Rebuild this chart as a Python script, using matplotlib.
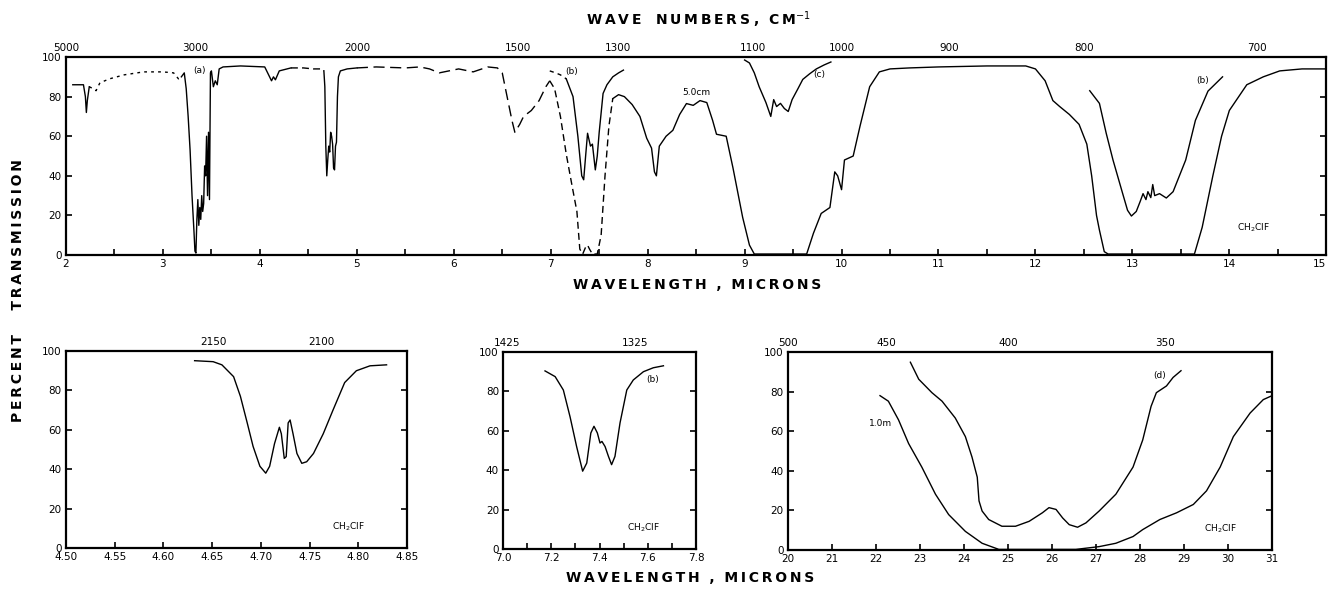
import numpy as np
import matplotlib
matplotlib.use("Agg")
import matplotlib.pyplot as plt

# ---------------- data: top panel (2-15 microns) ----------------
segA_x = [2.07, 2.18, 2.20, 2.21, 2.22, 2.24]
segA_y = [86, 86, 80, 72, 78, 85]
segB_x = [2.24, 2.28, 2.31, 2.35, 2.45, 2.6, 2.8, 3.0, 3.11, 3.16, 3.19]
segB_y = [85, 84, 83, 87, 89, 91, 92.5, 92.5, 92, 89, 90]
segC_x = [3.19, 3.22, 3.24, 3.26, 3.28, 3.30, 3.32, 3.33, 3.34, 3.35, 3.36, 3.37, 3.38,
          3.39, 3.40, 3.41, 3.42, 3.43, 3.44, 3.45, 3.46, 3.47, 3.48, 3.49, 3.50, 3.52,
          3.54, 3.56, 3.58, 3.62, 3.8, 4.05, 4.10, 4.12, 4.14, 4.16, 4.20, 4.32]
segC_y = [90, 92, 84, 70, 53, 30, 12, 2, 1, 18, 28, 15, 24, 18, 30, 22, 26, 45, 40, 60,
          30, 62, 28, 92, 93, 85, 88, 86, 94, 95, 95.5, 95, 90, 88, 90, 88.5, 93, 94.5]
segD_x = [4.32, 4.45, 4.55, 4.64, 4.66]
segD_y = [94.5, 94.5, 94, 94, 93]
segE_x = [4.66, 4.67, 4.68, 4.69, 4.70, 4.71, 4.72, 4.73, 4.74, 4.75, 4.76, 4.77, 4.78,
          4.79, 4.80, 4.81, 4.83, 4.9, 5.0]
segE_y = [93, 85, 55, 40, 48, 55, 52, 62, 60, 56, 44, 43, 55, 57, 80, 90, 93, 94, 94.5]
segF_x = [5.0, 5.2, 5.5, 5.65, 5.75, 5.85, 5.95, 6.05, 6.2, 6.35, 6.45, 6.5, 6.55, 6.6,
          6.63, 6.68, 6.72, 6.8, 6.88, 6.95, 6.99]
segF_y = [94.5, 95, 94.5, 95, 94, 92, 93, 94, 92.5, 95, 94.5, 92, 80, 68, 62, 66, 70,
          73, 78, 85, 88]
segG_x = [6.99, 7.04, 7.10, 7.16, 7.22, 7.27, 7.30, 7.33, 7.36, 7.38, 7.40, 7.43, 7.48,
          7.52, 7.56, 7.60, 7.64]
segG_y = [88, 84, 70, 51, 35, 22, 3, 0.5, 4, 5, 3, 0.5, 0.5, 10, 40, 65, 79]
segH_x = [7.64, 7.70, 7.76, 7.84, 7.92, 7.99, 8.04, 8.07, 8.09, 8.12, 8.19, 8.26, 8.33,
          8.40, 8.47, 8.54, 8.61, 8.67, 8.71, 8.81, 8.88, 8.98, 9.05, 9.10, 9.3, 9.5,
          9.64, 9.71, 9.79, 9.88, 9.93, 9.96, 10.0, 10.03, 10.12, 10.19, 10.29, 10.39,
          10.5, 10.7, 11.0, 11.5, 11.9, 12.0, 12.1, 12.18, 12.25, 12.35, 12.45, 12.53,
          12.58, 12.63, 12.66, 12.71, 12.75, 13.0, 13.3, 13.64, 13.72, 13.83, 13.92,
          14.0, 14.18, 14.35, 14.52, 14.75, 15.0]
segH_y = [79, 81, 80, 76, 70, 59, 54, 42, 40, 55, 60, 63, 71, 76.5, 75.6, 78, 77, 68,
          61, 60, 44, 19, 5, 0.5, 0.5, 0.5, 0.5, 11, 21, 24, 42, 40, 33, 48, 50, 65, 85,
          92.5, 94, 94.5, 95, 95.5, 95.5, 94, 88, 78, 75, 71, 66, 56, 40, 20, 12.6, 1.7,
          0.5, 0.5, 0.5, 0.5, 14, 40, 60, 73, 86, 90, 93, 94, 94]
b1dash_x = [6.99, 7.05, 7.10, 7.16]
b1dash_y = [93, 92, 91, 89]
b1_x = [7.16, 7.23, 7.28, 7.32, 7.34, 7.36, 7.38, 7.41, 7.43, 7.46, 7.48, 7.50, 7.54,
        7.58, 7.64, 7.70, 7.75]
b1_y = [89, 80, 60, 40, 38, 50, 61.5, 55, 56, 43, 50, 62, 81.6, 86, 90, 92, 93.4]
c_x = [9.0, 9.05, 9.10, 9.15, 9.22, 9.27, 9.30, 9.33, 9.37, 9.41, 9.45, 9.49, 9.55,
       9.6, 9.67, 9.74, 9.82, 9.89]
c_y = [98.5, 97, 92, 85, 77, 70, 78.5, 75, 76.6, 74, 72.5, 78.5, 84, 88.7, 91.5, 94,
       96, 97.5]
b2_x = [12.56, 12.66, 12.73, 12.80, 12.90, 12.95, 12.99, 13.04, 13.08, 13.11, 13.14,
        13.16, 13.19, 13.21, 13.23, 13.28, 13.35, 13.42, 13.55, 13.65, 13.78, 13.93]
b2_y = [83, 76.6, 61.5, 48, 31, 22.6, 19.7, 22, 27, 31, 28, 32, 29, 35.6, 30, 31,
        28.8, 32, 48, 68, 82.8, 90]

top_wn = [5000, 3000, 2000, 1500, 1300, 1100, 1000, 900, 800, 700]

# ---------------- bottom-left (4.50-4.85) ----------------
bl_x = [4.632, 4.651, 4.660, 4.672, 4.679, 4.686, 4.692, 4.699, 4.705, 4.709, 4.714,
        4.719, 4.721, 4.724, 4.726, 4.728, 4.730, 4.733, 4.737, 4.742, 4.747, 4.754,
        4.764, 4.774, 4.786, 4.798, 4.812, 4.829]
bl_y = [95.1, 94.6, 93, 87, 77, 63.5, 51.6, 41.5, 38, 41.5, 53, 61.3, 58, 45.5, 46.4,
        63.5, 65, 58, 48, 43, 43.8, 48, 58, 70, 84, 90, 92.5, 93]
bl_wn = [2150, 2100]

# ---------------- bottom-middle (7.0-7.8) ----------------
bm_x = [7.174, 7.216, 7.25, 7.278, 7.305, 7.33, 7.347, 7.364, 7.377, 7.391, 7.402,
        7.41, 7.423, 7.437, 7.45, 7.464, 7.485, 7.513, 7.54, 7.582, 7.623, 7.665]
bm_y = [90.4, 87.5, 80.7, 67, 52, 39.5, 43.6, 58.9, 62.3, 58.9, 53.8, 54.6, 52, 47,
        42.8, 47, 64, 80.7, 85.8, 90, 92, 93]
bm_wn = [1425, 1325]

# ---------------- bottom-right (20-31) ----------------
m1_x = [22.09, 22.28, 22.51, 22.74, 23.04, 23.35, 23.65, 24.03, 24.41, 24.79, 25.5,
        26.54, 27.07, 27.45, 27.84, 28.06, 28.45, 28.83, 29.21, 29.51, 29.82, 30.12,
        30.5, 30.8, 31.0]
m1_y = [78, 75.2, 65.8, 53.8, 41.9, 28.2, 17.9, 9.4, 3.4, 0.3, 0.3, 0.3, 1.7, 3.4,
        6.8, 10.3, 15.4, 18.8, 23, 29.9, 41.9, 57.3, 69.2, 76, 78]
d_x = [22.78, 22.97, 23.27, 23.5, 23.8, 24.03, 24.18, 24.3, 24.34, 24.41, 24.56, 24.86,
       25.17, 25.48, 25.78, 25.93, 26.09, 26.24, 26.39, 26.58, 26.77, 27.07, 27.45,
       27.84, 28.06, 28.25, 28.37, 28.6, 28.75, 28.93]
d_y = [94.9, 86.3, 79.5, 75.2, 66.7, 57.3, 47, 36.8, 24.8, 19.7, 15.4, 12, 12, 14.5,
       18.8, 21.4, 20.5, 16.2, 12.8, 11.5, 13.7, 19.7, 28.2, 41.9, 55.6, 72.6, 79.5,
       82.9, 87.2, 90.6]
br_wn = [500, 450, 400, 350]

# ---------------- figure ----------------
fig = plt.figure(figsize=(13.28, 5.96), dpi=100)
TFS = 7.5
LW = 1.0
SP = 1.6


def style(ax, xlim, xticks, xlabels, wn, wn_labels, minor=None):
    ax.set_xlim(*xlim)
    ax.set_ylim(0, 100)
    ax.set_xticks(xticks)
    ax.set_xticklabels(xlabels, fontsize=TFS)
    if minor is not None:
        ax.set_xticks(minor, minor=True)
    ax.set_yticks([0, 20, 40, 60, 80, 100])
    ax.set_yticklabels(["0", "20", "40", "60", "80", "100"], fontsize=TFS)
    ax.tick_params(axis="both", which="both", direction="in", length=4, width=1.2,
                   top=True, right=True, pad=3)
    ax.tick_params(axis="x", which="minor", length=4)
    for s in ax.spines.values():
        s.set_linewidth(SP)
    tw = ax.twiny()
    tw.set_xlim(*xlim)
    tw.set_xticks([1e4 / w for w in wn])
    tw.set_xticklabels(wn_labels, fontsize=TFS)
    tw.tick_params(axis="x", direction="in", length=0, pad=3)
    for s in tw.spines.values():
        s.set_visible(False)
    return ax


# top panel
ax = fig.add_axes([0.0497, 0.5721, 0.949, 0.3322])
ticks = list(range(2, 16))
style(ax, (2, 15), ticks, [str(t) for t in ticks], top_wn, [str(w) for w in top_wn],
      minor=np.arange(2.5, 15, 1.0))
ax.get_xticklabels()[-1].set_horizontalalignment("right")
ax.plot(segA_x, segA_y, color="black", lw=LW)
ax.plot(segB_x, segB_y, color="black", lw=LW, ls=(0, (2, 3)))
ax.plot(segC_x, segC_y, color="black", lw=LW)
ax.plot(segD_x, segD_y, color="black", lw=LW, ls=(0, (5, 3)))
ax.plot(segE_x, segE_y, color="black", lw=LW)
ax.plot(segF_x, segF_y, color="black", lw=LW, ls=(0, (8, 4)))
ax.plot(segG_x, segG_y, color="black", lw=LW, ls=(0, (5, 3)))
ax.plot(segH_x, segH_y, color="black", lw=LW)
ax.plot(b1dash_x, b1dash_y, color="black", lw=LW, ls=(0, (3, 3)))
ax.plot(b1_x, b1_y, color="black", lw=LW)
ax.plot(c_x, c_y, color="black", lw=LW)
ax.plot(b2_x, b2_y, color="black", lw=LW)
lbl = dict(fontsize=6.5, ha="center", va="center")
ax.text(3.38, 93.4, "(a)", **lbl)
ax.text(7.22, 92.6, "(b)", **lbl)
ax.text(8.5, 82, "5.0cm", **lbl)
ax.text(9.77, 91, "(c)", **lbl)
ax.text(13.72, 88, "(b)", **lbl)
ax.text(14.25, 13.6, "CH$_2$ClF", **lbl)

# bottom-left
ax = fig.add_axes([0.0497, 0.0805, 0.2568, 0.3305])
xt = [4.50, 4.55, 4.60, 4.65, 4.70, 4.75, 4.80, 4.85]
style(ax, (4.50, 4.85), xt, ["%.2f" % t for t in xt], bl_wn, [str(w) for w in bl_wn])
ax.plot(bl_x, bl_y, color="black", lw=LW)
ax.text(4.79, 10.6, "CH$_2$ClF", **lbl)

# bottom-middle
ax = fig.add_axes([0.3788, 0.0789, 0.1453, 0.3305])
xt = [7.0, 7.2, 7.4, 7.6, 7.8]
style(ax, (7.0, 7.8), xt, ["%.1f" % t for t in xt], bm_wn, [str(w) for w in bm_wn],
      minor=[7.1, 7.3, 7.5, 7.7])
ax.plot(bm_x, bm_y, color="black", lw=LW)
ax.text(7.58, 11, "CH$_2$ClF", **lbl)
ax.text(7.62, 86, "(b)", **lbl)

# bottom-right
ax = fig.add_axes([0.5934, 0.0772, 0.3645, 0.332])
xt = list(range(20, 32))
style(ax, (20, 31), xt, [str(t) for t in xt], br_wn, [str(w) for w in br_wn])
ax.plot(m1_x, m1_y, color="black", lw=LW)
ax.plot(d_x, d_y, color="black", lw=LW)
ax.text(28.44, 88, "(d)", **lbl)
ax.text(22.1, 64, "1.0m", **lbl)
ax.text(29.82, 10.6, "CH$_2$ClF", **lbl)

# titles
tkw = dict(fontsize=10, fontweight="bold", ha="center", va="center")
def spaced(s):
    return "\u2009".join(s)
fig.text(699 / 1328, 1 - 20 / 596, spaced("WAVE") + "   " + spaced("NUMBERS") + " ,  "
         + spaced("CM") + "$^{-1}$", **tkw)
fig.text(697 / 1328, 1 - 285 / 596, spaced("WAVELENGTH") + "  ,  " + spaced("MICRONS"),
         **tkw)
fig.text(690 / 1328, 1 - 578 / 596, spaced("WAVELENGTH") + "  ,  " + spaced("MICRONS"),
         **tkw)
fig.text(18 / 1328, 1 - 291 / 596, spaced("PERCENT") + "     " + spaced("TRANSMISSION"),
         rotation=90, **tkw)

fig.savefig("out.png", dpi=100)
